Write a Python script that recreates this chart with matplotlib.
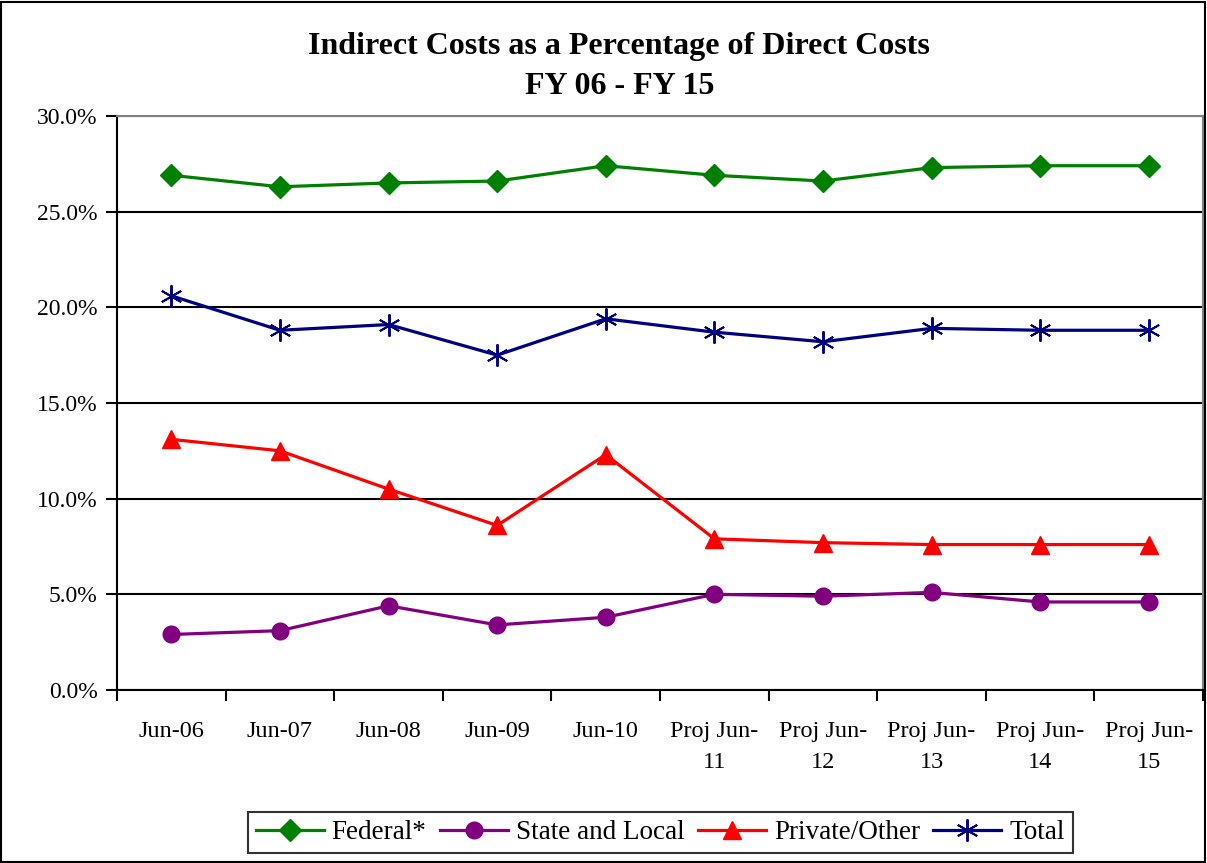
import numpy as np
import matplotlib.pyplot as plt
from matplotlib.patches import Rectangle

plt.rcParams['font.family'] = ['Liberation Serif', 'DejaVu Serif']

periods = ['Jun-06', 'Jun-07', 'Jun-08', 'Jun-09', 'Jun-10',
           'Proj Jun-\n11', 'Proj Jun-\n12', 'Proj Jun-\n13', 'Proj Jun-\n14', 'Proj Jun-\n15']
federal = [26.9, 26.3, 26.5, 26.6, 27.4, 26.9, 26.6, 27.3, 27.4, 27.4]
state_local = [2.9, 3.1, 4.4, 3.4, 3.8, 5.0, 4.9, 5.1, 4.6, 4.6]
private_other = [13.1, 12.5, 10.5, 8.6, 12.3, 7.9, 7.7, 7.6, 7.6, 7.6]
total = [20.6, 18.8, 19.1, 17.5, 19.4, 18.7, 18.2, 18.9, 18.8, 18.8]

fig = plt.figure(figsize=(12.07, 8.63), dpi=100)
ax = fig.add_axes([0.097, 0.2005, 0.8997, 0.6651])

x = np.arange(len(periods))
ax.plot(x, federal, color='#008000', lw=2.3, marker='D', ms=11, label='Federal*')
ax.plot(x, state_local, color='#800080', lw=2.3, marker='o', ms=12, label='State and Local')
ax.plot(x, private_other, color='#FF0000', lw=2.3, marker='^', ms=13, label='Private/Other')
ax.plot(x, total, color='#000080', lw=2.3, marker=(6, 2, 0), ms=16, mew=1.4, label='Total')

ax.set_xlim(-0.5, len(periods) - 0.5)
ax.set_ylim(0, 30)
ax.set_yticks(np.arange(0, 31, 5))
ax.set_yticklabels(['{:.1f}%'.format(v) for v in np.arange(0, 31, 5)], fontsize=17)
ax.yaxis.grid(True, color='black', lw=1.5)
ax.set_axisbelow(True)

ax.set_xticks(np.arange(-0.5, len(periods), 1))
ax.set_xticklabels([])
ax.set_xticks(x, minor=True)
ax.set_xticklabels(periods, minor=True, fontsize=17.5, linespacing=1.65)
ax.tick_params(axis='x', which='minor', length=0, pad=22)
ax.tick_params(axis='x', which='major', length=8, width=1.5, direction='out')
ax.tick_params(axis='y', length=8, width=1.5, direction='out', pad=6)

for s in ['top', 'right']:
    ax.spines[s].set_color('#808080')
    ax.spines[s].set_linewidth(1.5)
for s in ['left', 'bottom']:
    ax.spines[s].set_color('black')
    ax.spines[s].set_linewidth(1.5)

fig.text(0.513, 0.946, 'Indirect Costs as a Percentage of Direct Costs', ha='center', va='center',
         fontsize=23, fontweight='bold')
fig.text(0.513, 0.900, 'FY 06 - FY 15', ha='center', va='center', fontsize=23, fontweight='bold')

leg = fig.legend(loc='center', bbox_to_anchor=(0.547, 0.035), ncol=4, fontsize=19.5,
                 frameon=True, fancybox=False, edgecolor='black', handlelength=2.5,
                 columnspacing=0.5, handletextpad=0.3, borderpad=0.3)
leg.get_frame().set_linewidth(1.5)

fig.patches.append(Rectangle((0.001, 0.001), 0.997, 0.997, transform=fig.transFigure,
                             fill=False, edgecolor='black', lw=1.5))

fig.savefig('out.png', dpi=100)
